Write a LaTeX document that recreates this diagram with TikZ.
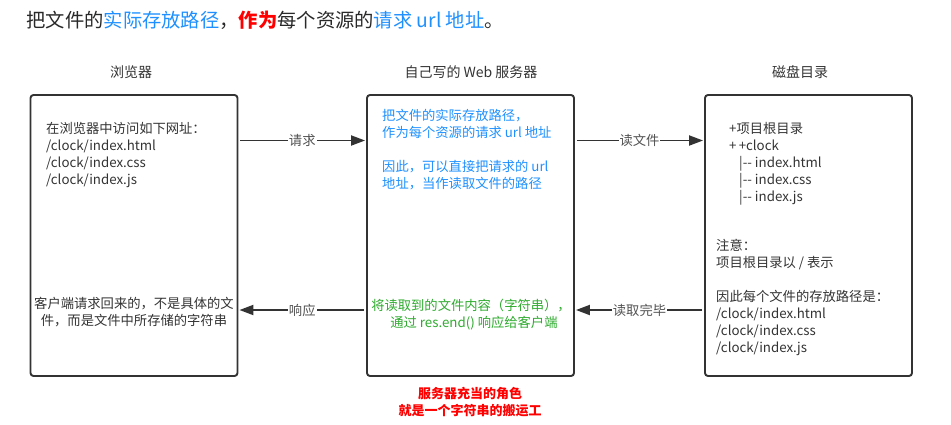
\documentclass[tikz,border=0pt]{standalone}
\usepackage{fontspec}
\setmainfont{Noto Sans CJK SC}
\usepackage{xcolor}
\usetikzlibrary{arrows.meta, positioning}

\definecolor{txtgray}{HTML}{333333}
\definecolor{linkblue}{HTML}{1E90FF}
\definecolor{okgreen}{HTML}{2EAA2E}

\begin{document}
\begin{tikzpicture}[
  x=1pt, y=-1pt,
  box/.style={rectangle, draw=txtgray, line width=1.9pt, rounded corners=3pt,
              minimum width=207pt, minimum height=281pt},
  head/.style={font=\fontsize{14}{17}\selectfont, text=txtgray},
  txt/.style={font=\fontsize{13.3}{17}\selectfont, text=txtgray,
              align=left, anchor=north west, inner sep=0pt},
  arrow/.style={-{Triangle[length=14pt, width=10pt]}, line width=1.9pt,
                draw=txtgray, shorten <=2pt, shorten >=1pt},
  tag/.style={fill=white, font=\fontsize{13.3}{15}\selectfont,
              text=txtgray!85, inner sep=1pt},
]
  \useasboundingbox (0,0) rectangle (951,424);

  % Title
  \node[anchor=west, font=\fontsize{19.3}{22}\selectfont, text=txtgray!80!black] (title) at (23,20)
    {把文件的\textcolor{linkblue}{实际存放路径}，\textcolor{red}{\bfseries 作为}每个资源的\textcolor{linkblue}{请求 url 地址}。};

  % Browser
  \node[box] (brw) at (134,235.5) {};
  \node[head] (brwhead) at (131,72) {浏览器};
  \node[txt] (brwtop) at (46,122)
    {在浏览器中访问如下网址：\\/clock/index.html\\/clock/index.css\\/clock/index.js};
  \node[txt, anchor=north, align=center] (brwbot) at (134,297)
    {客户端请求回来的，不是具体的文\\件，而是文件中所存储的字符串};

  % Server
  \node[box] (srv) at (470.5,235.5) {};
  \node[head] (srvhead) at (471,72) {自己写的 Web 服务器};
  \node[txt, text=linkblue] (srvtop) at (382,109)
    {把文件的实际存放路径，\\作为每个资源的请求 url 地址\\[17pt]因此，可以直接把请求的 url\\地址，当作读取文件的路径};
  \node[txt, text=okgreen, anchor=north, align=center] (srvbot) at (471,299)
    {将读取到的文件内容（字符串），\\\ \ 通过 res.end() 响应给客户端};

  % Disk
  \node[box] (dsk) at (808.5,235.5) {};
  \node[head] (dskhead) at (800,72) {磁盘目录};
  \node[txt] (dsktree) at (729,122)
    {+项目根目录\\+\,+clock\\\hspace*{10pt}|-{}- index.html\\\hspace*{10pt}|-{}- index.css\\\hspace*{10pt}|-{}- index.js};
  \node[txt] (dsknote) at (716,239)
    {注意：\\项目根目录以 / 表示\\[17pt]因此每个文件的存放路径是：\\/clock/index.html\\/clock/index.css\\/clock/index.js};

  % Footer
  \node[font=\fontsize{13}{17}\selectfont\bfseries, text=red, align=center] (role) at (470,402)
    {服务器充当的角色\\就是一个字符串的搬运工};

  % Arrows
  \draw[arrow] ([yshift=95pt]brw.east) -- node[tag] {请求} ([yshift=95pt]srv.west);
  \draw[arrow] ([yshift=95pt]srv.east) -- node[tag] {读文件} ([yshift=95pt]dsk.west);
  \draw[arrow] ([yshift=-74.5pt]dsk.west) -- node[tag] {读取完毕} ([yshift=-74.5pt]srv.east);
  \draw[arrow] ([yshift=-74.5pt]srv.west) -- node[tag] {响应} ([yshift=-74.5pt]brw.east);
\end{tikzpicture}
\end{document}
